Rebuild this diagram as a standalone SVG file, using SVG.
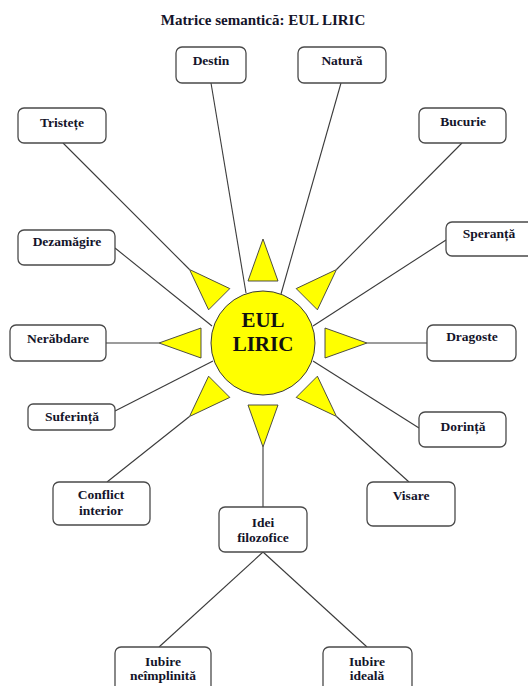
<svg xmlns="http://www.w3.org/2000/svg" width="528" height="686" viewBox="0 0 528 686">
  <style>
    .box { fill: #ffffff; stroke: #4a4a4a; stroke-width: 1.3; }
    .lbl { font-family: "Liberation Serif", "Times New Roman", serif; font-weight: bold; font-size: 13.5px; fill: #14142a; text-anchor: middle; }
    .title { font-family: "Liberation Serif", "Times New Roman", serif; font-weight: bold; font-size: 15px; fill: #14142a; text-anchor: middle; }
    .core { font-family: "Liberation Serif", "Times New Roman", serif; font-weight: bold; font-size: 21px; fill: #111111; text-anchor: middle; }
    .link { stroke: #3a3a3a; stroke-width: 1.1; fill: none; }
    .ray { fill: #ffff00; stroke: #3a3a3a; stroke-width: 0.9; }
    .sun { fill: #ffff00; stroke: #3a3a3a; stroke-width: 1; }
  </style>

  <rect width="528" height="686" fill="#ffffff"/>

  <text class="title" x="263" y="25">Matrice semantică: EUL LIRIC</text>

  <!-- connectors -->
  <g id="connectors">
    <line class="link" x1="211" y1="83" x2="246" y2="293"/>
    <line class="link" x1="341" y1="83" x2="281" y2="294"/>
    <line class="link" x1="63" y1="143" x2="189.5" y2="269.5"/>
    <line class="link" x1="462" y1="143" x2="336.5" y2="269.5"/>
    <line class="link" x1="115" y1="248" x2="212" y2="326"/>
    <line class="link" x1="446" y1="240" x2="313" y2="326"/>
    <line class="link" x1="106" y1="343" x2="159" y2="343"/>
    <line class="link" x1="367" y1="343" x2="427" y2="343"/>
    <line class="link" x1="115" y1="411" x2="213" y2="361"/>
    <line class="link" x1="419" y1="428" x2="313" y2="361"/>
    <line class="link" x1="107" y1="482" x2="189.5" y2="416.5"/>
    <line class="link" x1="409" y1="482" x2="336.5" y2="416.5"/>
    <line class="link" x1="263" y1="507" x2="263" y2="447"/>
    <line class="link" x1="263" y1="552" x2="159" y2="647"/>
    <line class="link" x1="263" y1="552" x2="367" y2="647"/>
  </g>

  <!-- central sun with eight rays -->
  <g id="eul-liric">
    <polygon class="ray" points="263,239 248,281 278,281"/>
    <polygon class="ray" points="336.5,269.5 296.2,288.6 317.4,309.8"/>
    <polygon class="ray" points="367,343 325,328 325,358"/>
    <polygon class="ray" points="336.5,416.5 317.4,376.2 296.2,397.4"/>
    <polygon class="ray" points="263,447 248,405 278,405"/>
    <polygon class="ray" points="189.5,416.5 208.6,376.2 229.8,397.4"/>
    <polygon class="ray" points="159,343 201,328 201,358"/>
    <polygon class="ray" points="189.5,269.5 229.8,288.6 208.6,309.8"/>
    <circle class="sun" cx="263" cy="343" r="52"/>
    <text class="core" x="263" y="327">EUL</text>
    <text class="core" x="263" y="351">LIRIC</text>
  </g>

  <g id="destin">
    <rect class="box" x="176" y="47" width="70" height="36" rx="6"/>
    <text class="lbl" x="211" y="65">Destin</text>
  </g>
  <g id="natura">
    <rect class="box" x="298" y="47" width="88" height="36" rx="6"/>
    <text class="lbl" x="342" y="65">Natură</text>
  </g>
  <g id="tristete">
    <rect class="box" x="18" y="108" width="88" height="35" rx="6"/>
    <text class="lbl" x="62" y="127">Tristețe</text>
  </g>
  <g id="bucurie">
    <rect class="box" x="419" y="108" width="87" height="35" rx="6"/>
    <text class="lbl" x="463" y="126">Bucurie</text>
  </g>
  <g id="dezamagire">
    <rect class="box" x="18" y="230" width="97" height="35" rx="6"/>
    <text class="lbl" x="67" y="246">Dezamăgire</text>
  </g>
  <g id="speranta">
    <rect class="box" x="446" y="222" width="92" height="34" rx="6"/>
    <text class="lbl" x="489" y="238">Speranță</text>
  </g>
  <g id="nerabdare">
    <rect class="box" x="10" y="325" width="96" height="36" rx="6"/>
    <text class="lbl" x="58" y="343">Nerăbdare</text>
  </g>
  <g id="dragoste">
    <rect class="box" x="427" y="325" width="89" height="36" rx="6"/>
    <text class="lbl" x="472" y="341">Dragoste</text>
  </g>
  <g id="suferinta">
    <rect class="box" x="28" y="404" width="87" height="26" rx="5"/>
    <text class="lbl" x="72" y="421">Suferință</text>
  </g>
  <g id="dorinta">
    <rect class="box" x="419" y="412" width="87" height="35" rx="6"/>
    <text class="lbl" x="463" y="431">Dorință</text>
  </g>
  <g id="conflict-interior">
    <rect class="box" x="53" y="482" width="97" height="43" rx="6"/>
    <text class="lbl" x="101" y="499">Conflict</text>
    <text class="lbl" x="101" y="515">interior</text>
  </g>
  <g id="visare">
    <rect class="box" x="367" y="482" width="88" height="44" rx="6"/>
    <text class="lbl" x="411" y="500">Visare</text>
  </g>
  <g id="idei-filozofice">
    <rect class="box" x="219" y="507" width="88" height="45" rx="6"/>
    <text class="lbl" x="263" y="527">Idei</text>
    <text class="lbl" x="263" y="542">filozofice</text>
  </g>
  <g id="iubire-neimplinita">
    <rect class="box" x="115" y="647" width="96" height="50" rx="6"/>
    <text class="lbl" x="163" y="666">Iubire</text>
    <text class="lbl" x="163" y="680">neîmplinită</text>
  </g>
  <g id="iubire-ideala">
    <rect class="box" x="323" y="647" width="89" height="50" rx="6"/>
    <text class="lbl" x="367" y="666">Iubire</text>
    <text class="lbl" x="367" y="680">ideală</text>
  </g>
</svg>
